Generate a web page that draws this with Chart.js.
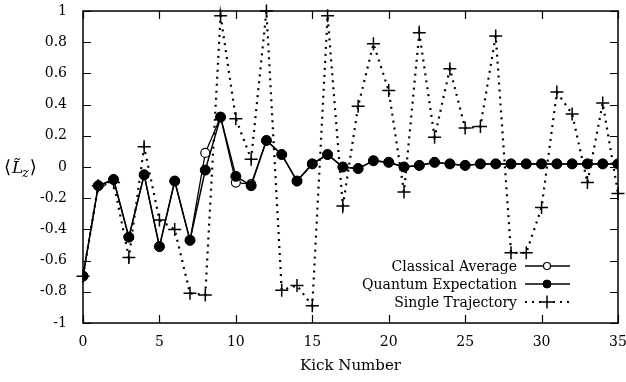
<!DOCTYPE html>
<html lang="en">
  <head>
    <meta charset="UTF-8" />
    <title>Kick Number</title>
    <script src="https://cdn.jsdelivr.net/npm/chart.js"></script>
    <style>
      body {
        margin: 0;
        background: #fff;
      }
      #wrap {
        width: 626px;
        height: 382px;
      }
    </style>
  </head>
  <body>
    <div id="wrap"><canvas id="chart" width="626" height="382"></canvas></div>

    <script>
      // data
      const kicks = [0, 1, 2, 3, 4, 5, 6, 7, 8, 9, 10, 11, 12, 13, 14, 15, 16, 17,
        18, 19, 20, 21, 22, 23, 24, 25, 26, 27, 28, 29, 30, 31, 32, 33, 34, 35];
      const classicalAverage = [-0.7, -0.12, -0.08, -0.45, -0.05, -0.51, -0.09, -0.47, 0.09, 0.32,
        -0.10, -0.11, 0.17, 0.08, -0.09, 0.02, 0.08, 0.0, -0.01, 0.04, 0.03, 0.0, 0.01, 0.03,
        0.02, 0.01, 0.02, 0.02, 0.02, 0.02, 0.02, 0.02, 0.02, 0.02, 0.02, 0.02];
      const quantumExpectation = [-0.7, -0.12, -0.08, -0.45, -0.05, -0.51, -0.09, -0.47, -0.02, 0.32,
        -0.06, -0.12, 0.17, 0.08, -0.09, 0.02, 0.08, 0.0, -0.01, 0.04, 0.03, 0.0, 0.01, 0.03,
        0.02, 0.01, 0.02, 0.02, 0.02, 0.02, 0.02, 0.02, 0.02, 0.02, 0.02, 0.02];
      const singleTrajectory = [-0.7, -0.12, -0.10, -0.58, 0.13, -0.34, -0.40, -0.81, -0.82, 0.97,
        0.31, 0.05, 1.0, -0.79, -0.76, -0.89, 0.97, -0.25, 0.39, 0.79, 0.49, -0.16, 0.86, 0.19,
        0.63, 0.25, 0.26, 0.84, -0.55, -0.55, -0.26, 0.48, 0.34, -0.10, 0.41, -0.17];
      const xTicks = [0, 5, 10, 15, 20, 25, 30, 35];
      const yTicks = [-1, -0.8, -0.6, -0.4, -0.2, 0, 0.2, 0.4, 0.6, 0.8, 1];

      const FONT = "'DejaVu Serif', 'Liberation Serif', serif";

      const pts = (ys) => kicks.map((k, i) => ({ x: k, y: ys[i] }));

      // gnuplot-like frame, inward ticks, legend and y title
      const framePlugin = {
        id: "frame",
        afterDraw(chart) {
          const ctx = chart.ctx;
          const a = chart.chartArea;
          const xs = chart.scales.x;
          const ys = chart.scales.y;
          ctx.save();
          ctx.strokeStyle = "#000";
          ctx.lineWidth = 1.5;
          ctx.strokeRect(a.left, a.top, a.right - a.left, a.bottom - a.top);
          ctx.lineWidth = 1.2;
          ctx.beginPath();
          xTicks.forEach((v) => {
            const px = Math.round(xs.getPixelForValue(v)) + 0.5;
            ctx.moveTo(px, a.bottom);
            ctx.lineTo(px, a.bottom - 8);
            ctx.moveTo(px, a.top);
            ctx.lineTo(px, a.top + 8);
          });
          yTicks.forEach((v) => {
            const py = Math.round(ys.getPixelForValue(v)) + 0.5;
            ctx.moveTo(a.left, py);
            ctx.lineTo(a.left + 8, py);
            ctx.moveTo(a.right, py);
            ctx.lineTo(a.right - 8, py);
          });
          ctx.stroke();

          // y axis title <L~z>
          const cy = (a.top + a.bottom) / 2 + 6;
          ctx.fillStyle = "#000";
          ctx.textBaseline = "alphabetic";
          ctx.textAlign = "left";
          let x = 4;
          ctx.font = "18px " + FONT;
          ctx.fillText("\u27E8", x, cy);
          x += ctx.measureText("\u27E8").width + 1;
          ctx.font = "italic 17px " + FONT;
          ctx.fillText("L\u0303", x, cy);
          x += ctx.measureText("L").width - 1;
          ctx.font = "italic 12px " + FONT;
          ctx.fillText("z", x, cy + 4);
          x += ctx.measureText("z").width + 1;
          ctx.font = "18px " + FONT;
          ctx.fillText("\u27E9", x, cy);

          // legend (text right aligned, sample on the right)
          const rows = chart.data.datasets;
          const textRight = 517;
          const s0 = 525, s1 = 570, sm = 547;
          rows.forEach((ds, i) => {
            const y = 266 + i * 18;
            ctx.font = "14px " + FONT;
            ctx.textAlign = "right";
            ctx.textBaseline = "middle";
            ctx.fillStyle = "#000";
            ctx.fillText(ds.label, textRight, y + 1);
            ctx.strokeStyle = "#000";
            ctx.lineWidth = ds.borderWidth;
            ctx.setLineDash(ds.borderDash || []);
            ctx.beginPath();
            ctx.moveTo(s0, y);
            ctx.lineTo(s1, y);
            ctx.stroke();
            ctx.setLineDash([]);
            ctx.lineWidth = ds.pointBorderWidth;
            ctx.fillStyle = ds.pointBackgroundColor;
            if (ds.pointStyle === "cross") {
              ctx.beginPath();
              ctx.moveTo(sm - ds.pointRadius, y);
              ctx.lineTo(sm + ds.pointRadius, y);
              ctx.moveTo(sm, y - ds.pointRadius);
              ctx.lineTo(sm, y + ds.pointRadius);
              ctx.stroke();
            } else {
              ctx.beginPath();
              ctx.arc(sm, y, ds.pointRadius - 1, 0, Math.PI * 2);
              ctx.fill();
              ctx.stroke();
            }
          });
          ctx.restore();
        },
      };

      new Chart(document.getElementById("chart").getContext("2d"), {
        type: "line",
        data: {
          datasets: [
            {
              label: "Classical Average",
              data: pts(classicalAverage),
              borderColor: "#000",
              borderWidth: 1.3,
              pointRadius: 4.5,
              pointBorderWidth: 1.2,
              pointBackgroundColor: "#fff",
              pointBorderColor: "#000",
              order: 2,
            },
            {
              label: "Quantum Expectation",
              data: pts(quantumExpectation),
              borderColor: "#000",
              borderWidth: 1.5,
              pointRadius: 5,
              pointBorderWidth: 1,
              pointBackgroundColor: "#000",
              pointBorderColor: "#000",
              order: 1,
            },
            {
              label: "Single Trajectory",
              data: pts(singleTrajectory),
              borderColor: "#000",
              borderWidth: 2.2,
              borderDash: [2, 5],
              pointStyle: "cross",
              pointRadius: 6.5,
              pointBorderWidth: 1.5,
              pointBackgroundColor: "#000",
              pointBorderColor: "#000",
              clip: 10,
              order: 0,
            },
          ],
        },
        options: {
          responsive: false,
          animation: false,
          layout: { padding: { left: 0, right: 6, top: 11, bottom: 0 } },
          plugins: { legend: { display: false }, tooltip: { enabled: false } },
          scales: {
            x: {
              type: "linear",
              min: 0,
              max: 35,
              grid: { display: false },
              border: { display: false },
              afterBuildTicks: (s) => { s.ticks = xTicks.map((v) => ({ value: v })); },
              afterFit: (s) => { s.height = 59; s.paddingLeft = 0; s.paddingRight = 0; },
              ticks: { color: "#000", font: { family: FONT, size: 14 }, padding: 3, maxRotation: 0 },
              title: {
                display: true,
                text: "Kick Number",
                color: "#000",
                font: { family: FONT, size: 15 },
                padding: { top: 1, bottom: 7 },
              },
            },
            y: {
              min: -1,
              max: 1,
              grid: { display: false },
              border: { display: false },
              afterBuildTicks: (s) => { s.ticks = yTicks.map((v) => ({ value: v })); },
              afterFit: (s) => { s.width = 83; s.paddingTop = 0; s.paddingBottom = 0; },
              ticks: {
                color: "#000",
                font: { family: FONT, size: 14 },
                padding: 8,
                callback: (v) => String(Math.round(v * 10) / 10),
              },
            },
          },
        },
        plugins: [framePlugin],
      });
    </script>
  </body>
</html>
